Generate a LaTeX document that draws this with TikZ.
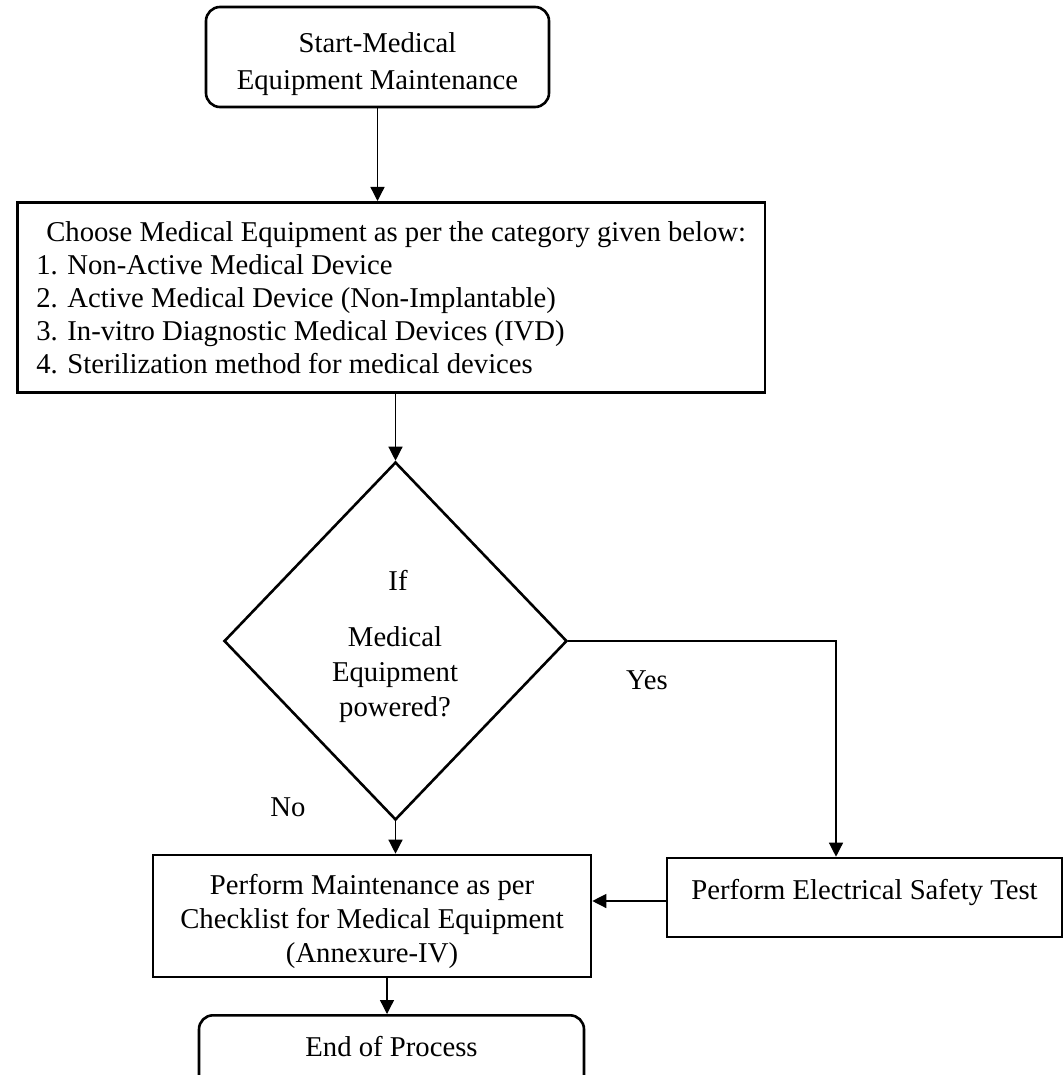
\documentclass[tikz,border=0pt]{standalone}
\usepackage{fontspec}
\setmainfont{Liberation Serif}
\usetikzlibrary{shapes.geometric,arrows.meta}
\begin{document}
\begin{tikzpicture}[x=1pt,y=-1pt,
  every node/.style={font=\fontsize{28.7}{34}\selectfont},
  box/.style={draw,line width=2.6pt,inner sep=0pt},
  rbox/.style={box,rounded corners=14pt},
  arr/.style={line width=1.3pt,-{Triangle[length=14pt,width=14pt]}},
  lbl/.style={inner sep=0pt}]
\useasboundingbox (0,0) rectangle (1064,1075);
\clip (0,0) rectangle (1064,1075);
% nodes
\node[rbox,minimum width=343pt,minimum height=100pt] (start) at (377.5,57) {};
\node[lbl,align=center,font=\fontsize{28.7}{37}\selectfont] (startt) at (377.5,64)
  {Start-Medical\\Equipment Maintenance};
\node[box,anchor=north west,minimum height=190pt,inner xsep=19pt,align=left,
  font=\fontsize{28.7}{33}\selectfont] (choose) at (16,201)
  {\hspace*{10pt}Choose Medical Equipment as per the category given below:\\
   1. Non-Active Medical Device\\
   2. Active Medical Device (Non-Implantable)\\
   3. In-vitro Diagnostic Medical Devices (IVD)\\
   4. Sterilization method for medical devices};
\node[diamond,draw,line width=2.6pt,minimum width=343pt,minimum height=358pt,inner sep=0pt] (dia) at (395.5,641) {};
\node[lbl] (qif) at (398,580) {If};
\node[lbl,align=center,font=\fontsize{28.7}{35}\selectfont] (qtxt) at (395,675) {Medical\\Equipment\\powered?};
\node[box,minimum width=395pt,minimum height=79pt] (elec) at (864.5,897.5) {};
\node[lbl] (elect) at (864.5,892) {Perform Electrical Safety Test};
\node[box,minimum width=438pt,minimum height=122pt] (maint) at (372,916) {};
\node[lbl,align=center] (maintt) at (372,921)
  {Perform Maintenance as per\\Checklist for Medical Equipment\\(Annexure-IV)};
\node[rbox,minimum width=385pt,minimum height=100pt,anchor=north] (endp) at (391.5,1014) {};
\node[lbl] (endt) at (391.5,1047) {End of Process};
\node[lbl] (no) at (288,807) {No};
\node[lbl] (yes) at (647,680) {Yes};
\coordinate (yc) at (836,641);
\coordinate (la) at (667,901);
\coordinate (me) at (387,977);
% connectors
\draw[arr] (start.south) -- (start.south |- choose.north);
\draw[arr] (dia.north |- choose.south) -- (dia.north);
\draw[arr] (dia.east) -| (yc |- elec.north);
\draw[arr] (dia.south) -- (dia.south |- maint.north);
\draw[arr] (la) -- (la -| maint.east);
\draw[arr] (me) -- (me |- endp.north);
\end{tikzpicture}
\end{document}
